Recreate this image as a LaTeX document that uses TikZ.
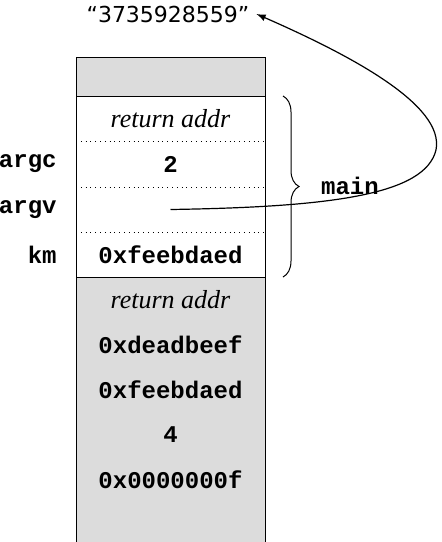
\documentclass[tikz,border=0pt]{standalone}
\usepackage{fontspec}
\setmainfont{Liberation Serif}
\setsansfont{DejaVu Sans}
\setmonofont{Liberation Mono}
\usetikzlibrary{arrows.meta, decorations.pathreplacing}
\tikzset{>=latex}
\definecolor{stackgray}{RGB}{220,220,220}
\begin{document}
\begin{tikzpicture}
[x=0.5pt, y=-0.5pt,
cell/.style={rectangle, minimum width=94.5pt, minimum height=22.6pt, inner sep=0pt, font=\fontsize{12}{14}\selectfont\ttfamily\bfseries},
note/.style={cell, font=\fontsize{13}{15}\selectfont\itshape},
var/.style={anchor=east, inner sep=0pt, font=\fontsize{12}{14}\selectfont\ttfamily\bfseries},
frame/.style={line width=0.5pt}]
\useasboundingbox (0,0) rectangle (441,542);
% stack background
\fill[stackgray] (76,57) rectangle (265,96);
\fill[stackgray] (76,277) rectangle (265,542);
\draw[frame] (76,542) -- (76,57) -- (265,57) -- (265,542);
\draw[frame] (76,96) -- (265,96);
\draw[frame] (76,277) -- (265,277);
\draw[dotted, line width=0.4pt] (76,141) -- (265,141);
\draw[dotted, line width=0.4pt] (76,187) -- (265,187);
\draw[dotted, line width=0.4pt] (76,232) -- (265,232);
% frame of main
\node[note] (ret) at (170.5,118.5) {return addr};
\node[cell] (argcval) at (170.5,164) {2};
\node[cell] (argvval) at (170.5,209.5) {};
\node[cell] (kmval) at (170.5,254.5) {0xfeebdaed};
\node[var] (argc) at (57,164) {argc};
\node[var] (argv) at (57,209.5) {argv};
\node[var] (km) at (57,254.5) {km};
% caller frame
\node[note] (ret2) at (170.5,300) {return addr};
\node[cell] (dead) at (170.5,345) {0xdeadbeef};
\node[cell] (feeb) at (170.5,390) {0xfeebdaed};
\node[cell] (four) at (170.5,435) {4};
\node[cell] (fifteen) at (170.5,480) {0x0000000f};
% brace and string
\draw[decorate, decoration={brace, amplitude=8pt}, line width=0.5pt] (283,96) -- (283,277);
\node[font=\fontsize{12}{14}\selectfont\ttfamily\bfseries] (main) at (350,186) {main};
\node[font=\fontsize{11}{13}\selectfont\sffamily] (str) at (168,14) {“3735928559”};
\draw[->, line width=0.6pt] (argvval.center) .. controls (330,207) and (425,195) .. (436,150)
  .. controls (445,105) and (350,55) .. (str.east);
\end{tikzpicture}
\end{document}
